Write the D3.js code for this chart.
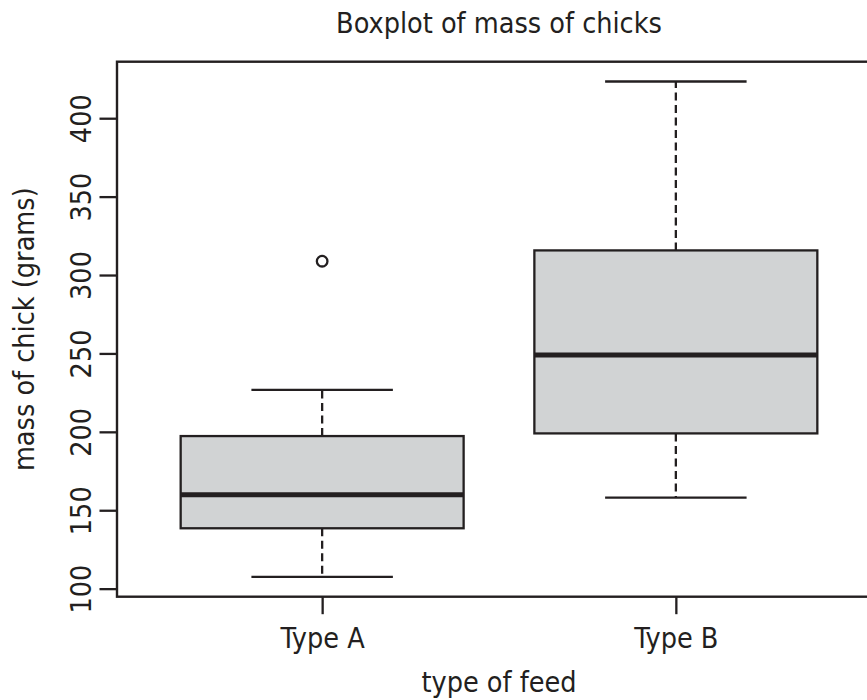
<!DOCTYPE html>
<html>
<head>
<meta charset="utf-8">
<script src="https://cdn.jsdelivr.net/npm/d3@7"></script>
<style>
  html, body { margin: 0; padding: 0; background: #fff; }
  svg text { font-family: "DejaVu Sans Condensed", "DejaVu Sans", sans-serif; font-stretch: condensed; fill: #231f20; }
</style>
</head>
<body>
<svg id="chart" width="867" height="700"></svg>
<script>
// ---- data ----
const categories    = ["Type A", "Type B"];
const lowerWhisker  = [107.5, 158.0];
const q1            = [138.5, 199.0];
const median        = [159.8, 249.0];
const q3            = [197.3, 315.7];
const upperWhisker  = [226.7, 423.4];
const outliers      = [[308.8], []];
const yTicks        = [100, 150, 200, 250, 300, 350, 400];
const titleText     = "Boxplot of mass of chicks";
const xLabelText    = "type of feed";
const yLabelText    = "mass of chick (grams)";

// ---- layout ----
const W = 867, H = 700;
const plot = { left: 117, right: 881, top: 61.7, bottom: 596.7 };
const ink = "#231f20";
const fontSize = 28.5;

const svg = d3.select("#chart");

// y domain: data range expanded by 4% (as R does)
const allVals = [].concat(lowerWhisker, upperWhisker, ...outliers);
const yMin = d3.min(allVals), yMax = d3.max(allVals);
const pad = (yMax - yMin) * 0.04;
const y = d3.scaleLinear().domain([yMin - pad, yMax + pad]).range([plot.bottom, plot.top]);

// x: positions 1..n, range [0.5, n+0.5] expanded by 4%
const n = categories.length;
const xr = (n + 0.5) - 0.5;
const x = d3.scaleLinear()
  .domain([0.5 - xr * 0.04, n + 0.5 + xr * 0.04])
  .range([plot.left, plot.right]);
const boxHalf = 0.4, capHalf = 0.2;

// ---- boxes ----
const data = categories.map((c, i) => ({
  cat: c, pos: i + 1,
  lo: lowerWhisker[i], q1: q1[i], med: median[i], q3: q3[i], hi: upperWhisker[i],
  out: outliers[i]
}));

const g = svg.append("g");
const bx = g.selectAll("g.box").data(data).join("g").attr("class", "box");

// dashed whiskers
bx.append("line")
  .attr("x1", d => x(d.pos)).attr("x2", d => x(d.pos))
  .attr("y1", d => y(d.q3)).attr("y2", d => y(d.hi))
  .attr("stroke", ink).attr("stroke-width", 2.3).attr("stroke-dasharray", "8,4.5");
bx.append("line")
  .attr("x1", d => x(d.pos)).attr("x2", d => x(d.pos))
  .attr("y1", d => y(d.q1)).attr("y2", d => y(d.lo))
  .attr("stroke", ink).attr("stroke-width", 2.3).attr("stroke-dasharray", "8,4.5");
// caps
bx.append("line")
  .attr("x1", d => x(d.pos - capHalf)).attr("x2", d => x(d.pos + capHalf))
  .attr("y1", d => y(d.hi)).attr("y2", d => y(d.hi))
  .attr("stroke", ink).attr("stroke-width", 2.3);
bx.append("line")
  .attr("x1", d => x(d.pos - capHalf)).attr("x2", d => x(d.pos + capHalf))
  .attr("y1", d => y(d.lo)).attr("y2", d => y(d.lo))
  .attr("stroke", ink).attr("stroke-width", 2.3);
// box
bx.append("rect")
  .attr("x", d => x(d.pos - boxHalf))
  .attr("width", d => x(d.pos + boxHalf) - x(d.pos - boxHalf))
  .attr("y", d => y(d.q3))
  .attr("height", d => y(d.q1) - y(d.q3))
  .attr("fill", "#d1d3d4").attr("stroke", ink).attr("stroke-width", 2.3);
// median
bx.append("line")
  .attr("x1", d => x(d.pos - boxHalf)).attr("x2", d => x(d.pos + boxHalf))
  .attr("y1", d => y(d.med)).attr("y2", d => y(d.med))
  .attr("stroke", ink).attr("stroke-width", 5);
// outliers
bx.selectAll("circle").data(d => d.out.map(v => ({ pos: d.pos, v })))
  .join("circle")
  .attr("cx", d => x(d.pos)).attr("cy", d => y(d.v)).attr("r", 5.3)
  .attr("fill", "none").attr("stroke", ink).attr("stroke-width", 2.3);

// ---- frame ----
svg.append("rect")
  .attr("x", plot.left).attr("y", plot.top)
  .attr("width", plot.right - plot.left).attr("height", plot.bottom - plot.top)
  .attr("fill", "none").attr("stroke", ink).attr("stroke-width", 2.4);

// ---- y axis ----
const yAxis = d3.axisLeft(y).tickValues(yTicks).tickSize(17.5).tickPadding(8).tickFormat(d3.format("d"));
const ya = svg.append("g").attr("transform", `translate(${plot.left},0)`).call(yAxis);
ya.select(".domain").remove();
ya.selectAll(".tick line").attr("stroke", ink).attr("stroke-width", 2.3);
ya.selectAll(".tick text")
  .attr("font-size", fontSize).attr("fill", ink)
  .attr("font-family", null)
  .attr("x", null).attr("dy", null)
  .attr("text-anchor", "middle")
  .attr("transform", "translate(-25.7,0) rotate(-90)");

// ---- x axis ----
const xAxis = d3.axisBottom(x).tickValues(data.map(d => d.pos)).tickSize(17.5).tickPadding(8)
  .tickFormat(v => categories[v - 1]);
const xa = svg.append("g").attr("transform", `translate(0,${plot.bottom})`).call(xAxis);
xa.select(".domain").remove();
xa.selectAll(".tick line").attr("stroke", ink).attr("stroke-width", 2.3);
xa.selectAll(".tick text")
  .attr("font-size", fontSize).attr("fill", ink)
  .attr("font-family", null)
  .attr("y", 51.3).attr("dy", null);

// ---- titles ----
const cx = (plot.left + plot.right) / 2;
svg.append("text").attr("x", cx).attr("y", 33).attr("text-anchor", "middle")
  .attr("font-size", fontSize).text(titleText);
svg.append("text").attr("x", cx).attr("y", 692).attr("text-anchor", "middle")
  .attr("font-size", fontSize).text(xLabelText);
svg.append("text")
  .attr("transform", `translate(33.5,${(plot.top + plot.bottom) / 2}) rotate(-90)`)
  .attr("text-anchor", "middle").attr("font-size", fontSize).text(yLabelText);
</script>
</body>
</html>
